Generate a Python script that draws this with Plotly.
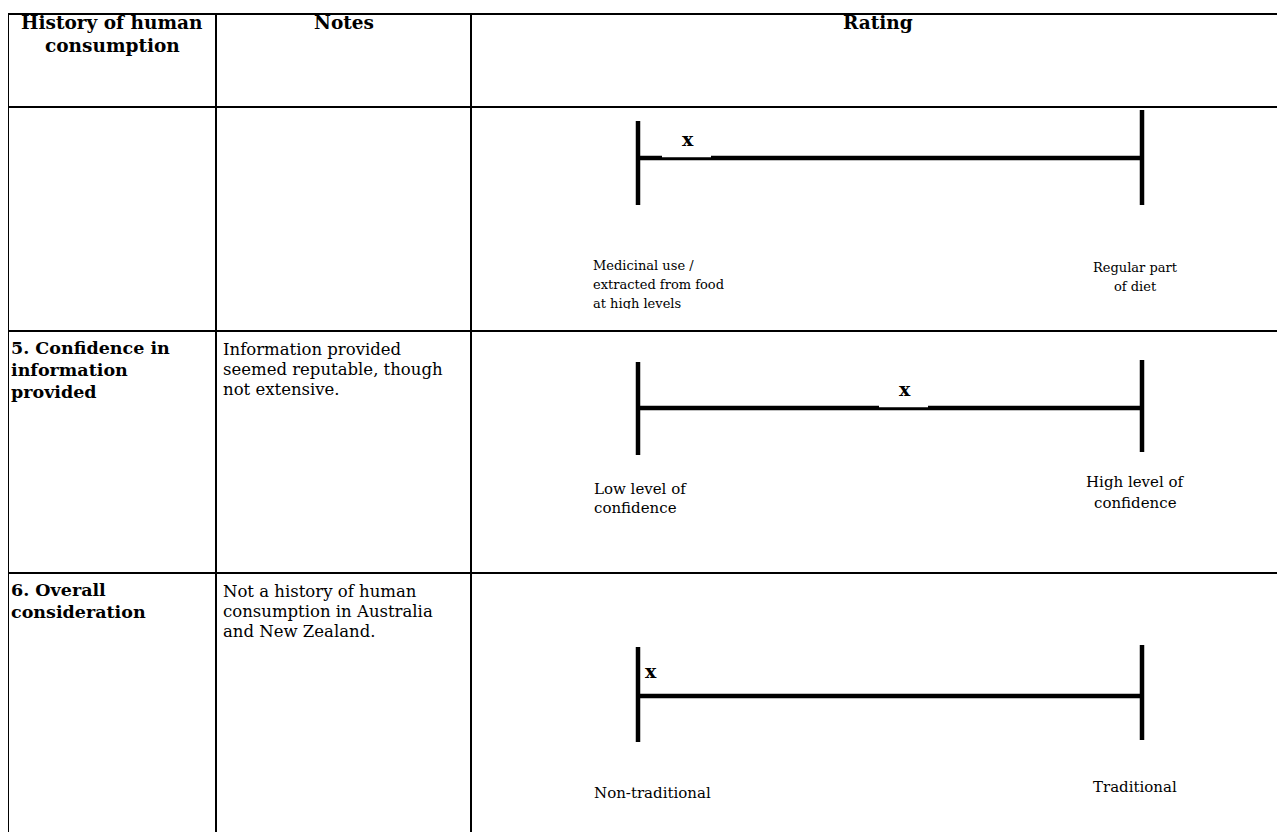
import plotly.graph_objects as go

W, H = 1285, 832

# ---- data -------------------------------------------------------------
headers = [["History of human", "consumption"], ["Notes"], ["Rating"]]
criteria = [[], ["5. Confidence in", "information", "provided"],
            ["6. Overall", "consideration"]]
notes = [[], ["Information provided", "seemed reputable, though", "not extensive."],
         ["Not a history of human", "consumption in Australia", "and New Zealand."]]
low_labels = [["Medicinal use /", "extracted from food", "at high levels"],
              ["Low level of", "confidence"],
              ["Non-traditional"]]
high_labels = [["Regular part", "of diet"],
               ["High level of", "confidence"],
               ["Traditional"]]
ratings = [0.10, 0.53, 0.025]   # position of "x" on a 0 (left) .. 1 (right) scale

# ---- layout geometry (page pixels) -----------------------------------
OFF = 8  # page body margin
col_edges = [8, 216, 471, 1300]
row_edges = [14, 107, 331, 573, 850]
scale_x0, scale_x1 = 638, 1142
line_y = [158, 408, 696]
left_tick = [(121, 205), (362, 455), (647, 742)]
right_tick = [(110, 205), (360, 452), (645, 740)]
mark_y = [139, 389, 671]
mark_box = [(662, 711), (879, 928), None]
low_y0 = [267, 489, 793]
high_y0 = [267, 482, 787]
lab_size = [13, 15, 15]
lab_ls = [19, 19, 19]
high_ls = [19, 21, 21]
FONT = "DejaVu Serif"
HEAD = 18.5
BOLD = 17.5
BODY = 16.5
MARK = 19

fig = go.Figure()
shapes = []
annotations = []


def add_lines(lines, x, y0, ls, size, bold=False, anchor="left"):
    for i, t in enumerate(lines):
        annotations.append(dict(
            x=x, y=y0 + i * ls, xref="x", yref="y", text=f"<b>{t}</b>" if bold else t,
            showarrow=False, xanchor=anchor, yanchor="middle",
            font=dict(family=FONT, size=size, color="black")))


# header
add_lines(headers[0], (col_edges[0] + col_edges[1]) / 2, 22, 23, HEAD, bold=True, anchor="center")
add_lines(headers[1], (col_edges[1] + col_edges[2]) / 2, 22, 23, HEAD, bold=True, anchor="center")
add_lines(headers[2], (col_edges[2] + 1285) / 2, 22, 23, HEAD, bold=True, anchor="center")

for r in range(3):
    top = row_edges[r + 1]
    add_lines(criteria[r], col_edges[0] + 1, top + 17, 22, BOLD, bold=True)
    add_lines(notes[r], col_edges[1] + 5, top + 18, 20, BODY)

    # rating scale
    for xs, ys in (([scale_x0, scale_x1], [line_y[r], line_y[r]]),
                   ([scale_x0, scale_x0], list(left_tick[r])),
                   ([scale_x1, scale_x1], list(right_tick[r]))):
        fig.add_trace(go.Scatter(x=xs, y=ys, mode="lines", line=dict(color="black", width=4.5),
                                 hoverinfo="skip", showlegend=False))
    mx = scale_x0 + ratings[r] * (scale_x1 - scale_x0)
    annotations.append(dict(x=mx, y=mark_y[r], xref="x", yref="y", text="<b>x</b>",
                            showarrow=False, xanchor="center", yanchor="middle",
                            font=dict(family=FONT, size=MARK, color="black")))
    if mark_box[r] is not None:
        shapes.append(dict(type="rect", xref="x", yref="y", x0=mark_box[r][0], x1=mark_box[r][1],
                           y0=line_y[r] - 4, y1=line_y[r] - 0.8, fillcolor="white",
                           line=dict(width=0), layer="above"))

    # scale labels
    if r == 0:
        for i, t in enumerate(low_labels[r]):
            fig.add_trace(go.Scatter(x=[593], y=[low_y0[r] + i * lab_ls[r]], mode="text", text=[t],
                                     textposition="middle right", hoverinfo="skip", showlegend=False,
                                     textfont=dict(family=FONT, size=lab_size[r], color="black")))
    else:
        add_lines(low_labels[r], 592, low_y0[r], lab_ls[r], lab_size[r])
    add_lines(high_labels[r], 1135, high_y0[r], high_ls[r], lab_size[r], anchor="center")

# clip of the first low label (text box cut off in the source)
shapes.append(dict(type="rect", xref="x", yref="y", x0=580, x1=820, y0=309, y1=row_edges[2] - 2,
                   fillcolor="white", line=dict(width=0), layer="above"))

# table grid
for y in row_edges[:-1]:
    shapes.append(dict(type="line", xref="x", yref="y", x0=col_edges[0], x1=col_edges[-1], y0=y, y1=y,
                       line=dict(color="black", width=2), layer="above"))
for x in col_edges[:-1]:
    shapes.append(dict(type="line", xref="x", yref="y", x0=x, x1=x, y0=row_edges[0], y1=row_edges[-1],
                       line=dict(color="black", width=2), layer="above"))

fig.update_layout(
    width=W, height=H, margin=dict(l=0, r=0, t=0, b=0),
    paper_bgcolor="white", plot_bgcolor="white",
    xaxis=dict(range=[OFF, W + OFF], visible=False, fixedrange=True),
    yaxis=dict(range=[H + OFF, OFF], visible=False, fixedrange=True),
    shapes=shapes, annotations=annotations, showlegend=False,
)

fig.write_html("out.html")
